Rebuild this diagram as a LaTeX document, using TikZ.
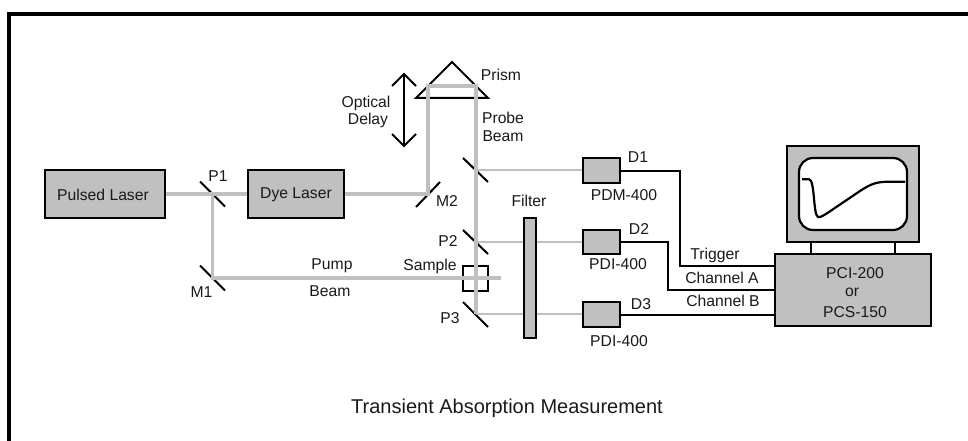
\documentclass[tikz,border=0pt]{standalone}
\usepackage{fontspec}
\setmainfont{Liberation Sans}
\definecolor{beamgray}{HTML}{C0C0C0}
\tikzset{
  frameline/.style={line width=4pt,black},
  beam/.style={line width=3.6pt,beamgray},
  thinbeam/.style={line width=2pt,beamgray},
  mirror/.style={line width=2pt,black},
  wire/.style={line width=2pt,black},
  box/.style={draw=black,line width=2.2pt,fill=beamgray,inner sep=0pt,anchor=center},
  lab/.style={inner sep=0pt,anchor=center,font=\fontsize{15.7}{18}\selectfont,text=black!90},
}
\begin{document}
\begin{tikzpicture}[x=1pt,y=-1pt]
\useasboundingbox (0,0) rectangle (968,441);
\coordinate (fa) at (9,441);
\coordinate (fb) at (9,14);
\coordinate (fc) at (968,14);
\draw[frameline] (fa) -- (fb) -- (fc);

% optical points
\coordinate (p1) at (212.5,194);
\coordinate (m1) at (212.5,278);
\coordinate (m2) at (428,194);
\coordinate (pr1) at (428,86);
\coordinate (pr2) at (476,86);
\coordinate (pm) at (476,170);
\coordinate (p2) at (476,242);
\coordinate (p3) at (476,314);
\coordinate (stop) at (501,278);

% mirrors
\draw[mirror] (p1) +(-12.5,-12.5) -- +(12.5,12.5);
\draw[mirror] (m1) +(-12.5,-12.5) -- +(12.5,12.5);
\draw[mirror] (m2) +(-12,13) -- +(12,-12);
\draw[mirror] (pm) +(-13,-12) -- +(12,12);
\draw[mirror] (p2) +(-13,-12) -- +(12,12);
\draw[mirror] (p3) +(-13,-12) -- +(12,13);

% sample holder
\node[draw=black,line width=2pt,minimum width=25pt,minimum height=25pt,inner sep=0pt] (sample) at (475.5,278.5) {};

% prism
\coordinate (pa) at (452,62);
\coordinate (pb) at (416,98);
\coordinate (pc) at (488,98);
\draw[mirror,line join=miter] (pa) -- (pb) -- (pc) -- cycle;

% beams
\draw[beam] (105,194) -- (248,194);
\draw[beam] (p1) -- (m1) -- (stop);
\draw[beam] (344,194) -- (m2) -- (pr1) -- (pr2) -- (p3);
\draw[thinbeam] (pm) -- (583,170);
\draw[thinbeam] (p2) -- (583,242);
\draw[thinbeam] (p3) -- (583,314);

% boxes
\node[box,minimum width=120pt,minimum height=48pt] (pulsed) at (105,194) {};
\node[box,minimum width=96pt,minimum height=48pt] (dye) at (296,194) {};
\node[box,minimum width=37pt,minimum height=25pt] (d1) at (601.5,170.5) {};
\node[box,minimum width=37pt,minimum height=24pt] (d2) at (601.5,242) {};
\node[box,minimum width=37pt,minimum height=25pt] (d3) at (601.5,314.5) {};
\node[box,minimum width=12pt,minimum height=120pt] (filter) at (530,278) {};
\node[box,minimum width=156pt,minimum height=72pt] (pci) at (853,290) {};
\node[box,minimum width=132pt,minimum height=96pt] (mon) at (853,194) {};
\node[draw=black,fill=white,line width=2.2pt,rounded corners=14pt,minimum width=108pt,minimum height=72pt,inner sep=0pt] (screen) at (853,194) {};

% delay arrow
\coordinate (da) at (404,74);
\coordinate (db) at (404,146);
\draw[mirror] (da) -- (db);
\draw[mirror] (392,86) -- (da) -- (416,86);
\draw[mirror] (392,134) -- (db) -- (416,134);

% wires
\coordinate (wa) at (679.5,266);
\coordinate (wb) at (667.5,290);
\draw[wire] (d1.east) -| (wa) -- (wa -| pci.west);
\draw[wire] (d2.east) -| (wb) -- (wb -| pci.west);
\draw[wire] (d3.east) -- (d3.east -| pci.west);
\coordinate (sa) at (811,254);
\coordinate (sb) at (895,254);
\draw[wire] (sa) -- (sa |- mon.south);
\draw[wire] (sb) -- (sb |- mon.south);

% trace
\draw[line width=2.2pt,black] (802,179.3) -- (809,179.3)
  .. controls (815,179.3) and (813,215) .. (818,217)
  .. controls (820,218) and (824,215) .. (827,213.3)
  -- (860,191)
  .. controls (872,183) and (878,181.7) .. (890,181.7)
  -- (905,181.7);

% labels
\node[lab] (tpl) at (103,194.5) {Pulsed Laser};
\node[lab] (tdl) at (296,194.5) {Dye Laser};
\node[lab] (tp1) at (218,176) {P1};
\node[lab] (tm1) at (201.5,292) {M1};
\node[lab] (tm2) at (447,201) {M2};
\node[lab] (tpu) at (332,266) {Pump};
\node[lab] (tbe) at (330,291) {Beam};
\node[lab] (tsa) at (430,266) {Sample};
\node[lab] (tpr) at (501,75) {Prism};
\node[lab] (tpb) at (503,118) {Probe};
\node[lab] (tpc) at (503,136) {Beam};
\node[lab] (top) at (366,103) {Optical};
\node[lab] (tde) at (368,120) {Delay};
\node[lab] (tfi) at (529,201) {Filter};
\node[lab] (tp2) at (448,241) {P2};
\node[lab] (tp3) at (450,318) {P3};
\node[lab] (td1) at (638,157) {D1};
\node[lab] (td2) at (639,229) {D2};
\node[lab] (td3) at (641,304) {D3};
\node[lab] (tpd) at (624,195) {PDM-400};
\node[lab] (ti1) at (618,264) {PDI-400};
\node[lab] (ti2) at (619,341) {PDI-400};
\node[lab] (ttr) at (715,255) {Trigger};
\node[lab] (tca) at (722,278) {Channel A};
\node[lab] (tcb) at (723,301) {Channel B};
\node[lab] (tpci) at (855,273.5) {PCI-200};
\node[lab] (tor) at (852,292) {or};
\node[lab] (tpcs) at (855,312) {PCS-150};
\node[lab,font=\fontsize{20}{24}\selectfont] (ttitle) at (507,408) {Transient Absorption Measurement};
\end{tikzpicture}
\end{document}
